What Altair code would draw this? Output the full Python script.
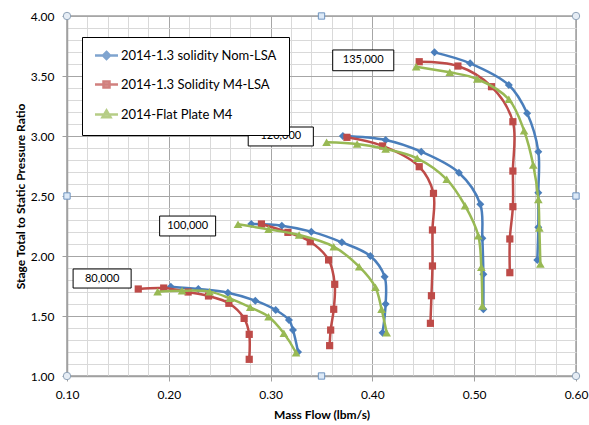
import altair as alt
import numpy as np
import pandas as pd

SERIES = ["2014-1.3 solidity Nom-LSA", "2014-1.3 Solidity M4-LSA", "2014-Flat Plate M4"]
COLORS = ["#4A7EBB", "#BE4B48", "#98B954"]
SHAPES = ["diamond", "square", "triangle-up"]
SPEEDS = ["80,000", "100,000", "120,000", "135,000"]

# Nom-LSA: mass flow (lbm/s) and stage total-to-static pressure ratio per speed line
NOM_80_FLOW = [0.202, 0.229, 0.258, 0.285, 0.305, 0.318, 0.322, 0.327]
NOM_80_PR = [1.744, 1.725, 1.694, 1.628, 1.550, 1.467, 1.383, 1.200]
NOM_100_FLOW = [0.281, 0.311, 0.340, 0.370, 0.398, 0.412, 0.413, 0.410]
NOM_100_PR = [2.267, 2.253, 2.203, 2.114, 2.000, 1.828, 1.600, 1.361]
NOM_120_FLOW = [0.371, 0.413, 0.448, 0.485, 0.506, 0.508, 0.509, 0.509]
NOM_120_PR = [3.000, 2.967, 2.869, 2.694, 2.431, 2.147, 1.847, 1.556]
NOM_135_FLOW = [0.461, 0.496, 0.534, 0.552, 0.563, 0.563, 0.563, 0.562]
NOM_135_PR = [3.697, 3.606, 3.425, 3.189, 2.869, 2.528, 2.240, 1.967]

# M4-LSA
M4_80_FLOW = [0.170, 0.195, 0.219, 0.239, 0.259, 0.274, 0.279, 0.279]
M4_80_PR = [1.725, 1.733, 1.700, 1.667, 1.606, 1.480, 1.347, 1.139]
M4_100_FLOW = [0.291, 0.317, 0.339, 0.357, 0.363, 0.362, 0.359, 0.358]
M4_100_PR = [2.267, 2.197, 2.119, 1.967, 1.764, 1.556, 1.383, 1.253]
M4_120_FLOW = [0.375, 0.410, 0.446, 0.460, 0.459, 0.459, 0.458, 0.457]
M4_120_PR = [2.989, 2.917, 2.744, 2.522, 2.217, 1.917, 1.669, 1.439]
M4_135_FLOW = [0.446, 0.484, 0.517, 0.538, 0.538, 0.538, 0.535, 0.535]
M4_135_PR = [3.619, 3.583, 3.411, 3.119, 2.708, 2.411, 2.142, 1.861]

# Flat Plate M4
FP_80_FLOW = [0.189, 0.213, 0.240, 0.260, 0.280, 0.298, 0.313, 0.325]
FP_80_PR = [1.703, 1.711, 1.703, 1.647, 1.572, 1.494, 1.356, 1.194]
FP_100_FLOW = [0.268, 0.298, 0.328, 0.362, 0.387, 0.403, 0.409, 0.414]
FP_100_PR = [2.264, 2.222, 2.175, 2.078, 1.911, 1.739, 1.556, 1.361]
FP_120_FLOW = [0.355, 0.385, 0.413, 0.444, 0.473, 0.491, 0.504, 0.507, 0.508]
FP_120_PR = [2.947, 2.933, 2.892, 2.814, 2.639, 2.419, 2.169, 1.906, 1.583]
FP_135_FLOW = [0.443, 0.476, 0.503, 0.534, 0.549, 0.558, 0.563, 0.564, 0.565]
FP_135_PR = [3.578, 3.531, 3.475, 3.306, 3.044, 2.758, 2.470, 2.233, 1.933]

# speed-line callout boxes (data coordinates)
CALLOUT_TEXT = ["135,000", "120,000", "100,000", "80,000"]
CALLOUT_X0 = [0.361, 0.278, 0.191, 0.106]
CALLOUT_X1 = [0.421, 0.342, 0.246, 0.163]
CALLOUT_Y0 = [3.544, 2.917, 2.167, 1.733]
CALLOUT_Y1 = [3.717, 3.075, 2.333, 1.892]

X_DOMAIN = [0.10, 0.60]
Y_DOMAIN = [1.00, 4.00]
X_MAJOR = [0.10, 0.20, 0.30, 0.40, 0.50, 0.60]
Y_MAJOR = [1.00, 1.50, 2.00, 2.50, 3.00, 3.50, 4.00]
X_MINOR = list(np.round(np.arange(0.10, 0.6001, 0.02), 2))
Y_MINOR = list(np.round(np.arange(1.0, 4.001, 0.1), 1))

FONT = "Lato"
GRID_MAJOR = "#a6a6a6"
GRID_MINOR = "#d9d9d9"

curves = {
    SERIES[0]: [(NOM_80_FLOW, NOM_80_PR), (NOM_100_FLOW, NOM_100_PR),
                (NOM_120_FLOW, NOM_120_PR), (NOM_135_FLOW, NOM_135_PR)],
    SERIES[1]: [(M4_80_FLOW, M4_80_PR), (M4_100_FLOW, M4_100_PR),
                (M4_120_FLOW, M4_120_PR), (M4_135_FLOW, M4_135_PR)],
    SERIES[2]: [(FP_80_FLOW, FP_80_PR), (FP_100_FLOW, FP_100_PR),
                (FP_120_FLOW, FP_120_PR), (FP_135_FLOW, FP_135_PR)],
}

rows = []
for s, lines in curves.items():
    for speed, (flows, prs) in zip(SPEEDS, lines):
        for i, (f, p) in enumerate(zip(flows, prs)):
            rows.append({"series": s, "speed": speed, "idx": i, "flow": f, "pr": p})
df = pd.DataFrame(rows)

callouts = pd.DataFrame({"label": CALLOUT_TEXT, "x0": CALLOUT_X0, "x1": CALLOUT_X1,
                         "y0": CALLOUT_Y0, "y1": CALLOUT_Y1})

# plot-area selection handles at corners and edge midpoints
xm = sum(X_DOMAIN) / 2
ym = sum(Y_DOMAIN) / 2
handles = pd.DataFrame({
    "flow": [X_DOMAIN[0], X_DOMAIN[1], X_DOMAIN[0], X_DOMAIN[1], xm, xm, X_DOMAIN[0], X_DOMAIN[1]],
    "pr": [Y_DOMAIN[0], Y_DOMAIN[0], Y_DOMAIN[1], Y_DOMAIN[1], Y_DOMAIN[0], Y_DOMAIN[1], ym, ym],
    "kind": ["circle"] * 4 + ["square"] * 4,
})

xscale = alt.Scale(domain=X_DOMAIN, nice=False, zero=False, padding=0)
yscale = alt.Scale(domain=Y_DOMAIN, nice=False, zero=False, padding=0)

# one grid per direction: darker lines on the labelled values, lighter in between
x_grid_color = {"condition": {"test": "abs(datum.value * 10 - round(datum.value * 10)) < 0.001",
                              "value": GRID_MAJOR}, "value": GRID_MINOR}
y_grid_color = {"condition": {"test": "abs(datum.value * 2 - round(datum.value * 2)) < 0.001",
                              "value": GRID_MAJOR}, "value": GRID_MINOR}

grid_x_axis = alt.Axis(orient="bottom", values=X_MINOR, labels=False, ticks=False, domain=False,
                       title=None, grid=True, gridColor=x_grid_color, gridWidth=1, zindex=0)
grid_y_axis = alt.Axis(orient="left", values=Y_MINOR, labels=False, ticks=False, domain=False,
                       title=None, grid=True, gridColor=y_grid_color, gridWidth=1, zindex=0)
major_x_axis = alt.Axis(orient="bottom", values=X_MAJOR, format=".2f", grid=False,
                        domainColor="#a0a0a0", domainWidth=1.5, tickColor="#a0a0a0", tickSize=5,
                        labelFont=FONT, labelFontSize=12, labelColor="#000", labelPadding=8,
                        labelFlush=False, labelOverlap=False,
                        title="Mass Flow (lbm/s)", titleFont=FONT, titleFontSize=12,
                        titleFontWeight="bold", titleColor="#000", titlePadding=9)
major_y_axis = alt.Axis(orient="left", values=Y_MAJOR, format=".2f", grid=False,
                        domainColor="#a0a0a0", domainWidth=1.5, tickColor="#a0a0a0", tickSize=5,
                        labelFont=FONT, labelFontSize=12, labelColor="#000", labelPadding=8,
                        labelFlush=False, labelOverlap=False,
                        title="Stage Total to Static Pressure Ratio", titleFont=FONT, titleFontSize=12,
                        titleFontWeight="bold", titleColor="#000", titlePadding=3)

# legend symbols: a line segment with the series marker in the middle
LEGEND_PATHS = [
    "M-2.3,0L2.3,0M0,-0.7L0.7,0L0,0.7L-0.7,0Z",
    "M-2.3,0L2.3,0M-0.6,-0.6L0.6,-0.6L0.6,0.6L-0.6,0.6Z",
    "M-2.3,0L2.3,0M0,-0.8L0.8,0.55L-0.8,0.55Z",
]


def make_legend():
    return alt.Legend(title=None, orient="none", legendX=15, legendY=21, padding=12,
                      strokeColor="#000", fillColor="#fff", labelFont=FONT, labelFontSize=13,
                      labelColor="#000", symbolSize=100, symbolStrokeWidth=2.5,
                      symbolOffset=6, labelOffset=8, rowPadding=12, labelLimit=300)


legend_layer = alt.Chart(df).transform_filter("false").mark_point(filled=False).encode(
    x=alt.X("flow:Q", scale=xscale, axis=grid_x_axis),
    y=alt.Y("pr:Q", scale=yscale, axis=grid_y_axis),
    color=alt.Color("series:N", scale=alt.Scale(domain=SERIES, range=COLORS), legend=make_legend()),
    fill=alt.Fill("series:N", scale=alt.Scale(domain=SERIES, range=COLORS), legend=make_legend()),
    shape=alt.Shape("series:N", scale=alt.Scale(domain=SERIES, range=LEGEND_PATHS), legend=make_legend()),
)

layers = [legend_layer]
marker_sizes = [64, 52, 75]
for k, (s, col, shp) in enumerate(zip(SERIES, COLORS, SHAPES)):
    sub = alt.Chart(df).transform_filter(alt.datum.series == s)
    xa = major_x_axis if k == 0 else None
    ya = major_y_axis if k == 0 else None
    line = sub.mark_line(interpolate="catmull-rom", strokeWidth=2.5, color=col).encode(
        x=alt.X("flow:Q", scale=xscale, axis=xa),
        y=alt.Y("pr:Q", scale=yscale, axis=ya),
        detail="speed:N",
        order="idx:Q",
    )
    pts = sub.mark_point(filled=True, shape=shp, size=marker_sizes[k], color=col, opacity=1).encode(
        x=alt.X("flow:Q", scale=xscale, axis=None),
        y=alt.Y("pr:Q", scale=yscale, axis=None),
    )
    layers += [line, pts]

boxes = alt.Chart(callouts).mark_rect(fill="#fff", stroke="#000", strokeWidth=1, opacity=1).encode(
    x=alt.X("x0:Q", scale=xscale, axis=None),
    x2="x1:Q",
    y=alt.Y("y0:Q", scale=yscale, axis=None),
    y2="y1:Q",
)
box_text = alt.Chart(callouts).transform_calculate(
    cx="(datum.x0 + datum.x1) / 2", cy="(datum.y0 + datum.y1) / 2"
).mark_text(font=FONT, fontSize=11, color="#000", align="center", baseline="middle").encode(
    x=alt.X("cx:Q", scale=xscale, axis=None),
    y=alt.Y("cy:Q", scale=yscale, axis=None),
    text="label:N",
)

handle_circles = alt.Chart(handles).transform_filter(alt.datum.kind == "circle").mark_point(
    shape="circle", size=55, filled=True, fill="#e6edf5", stroke="#8fa3b8", strokeWidth=1,
    opacity=1, clip=False
).encode(
    x=alt.X("flow:Q", scale=xscale, axis=None),
    y=alt.Y("pr:Q", scale=yscale, axis=None),
)
handle_squares = alt.Chart(handles).transform_filter(alt.datum.kind == "square").mark_point(
    shape="square", size=40, filled=True, fill="#dce9f7", stroke="#6f94bf", strokeWidth=1,
    opacity=1, clip=False
).encode(
    x=alt.X("flow:Q", scale=xscale, axis=None),
    y=alt.Y("pr:Q", scale=yscale, axis=None),
)

layers += [boxes, box_text, handle_circles, handle_squares]

chart = alt.layer(*layers).resolve_axis(x="independent", y="independent").properties(
    width=509,
    height=360,
    autosize=alt.AutoSizeParams(type="none"),
    padding={"left": 67, "top": 16, "right": 13, "bottom": 49},
    background="#ffffff",
).configure_view(stroke="#a0a0a0", strokeWidth=1.5)

chart.save("out.html", embed_options={"renderer": "svg", "actions": False})
